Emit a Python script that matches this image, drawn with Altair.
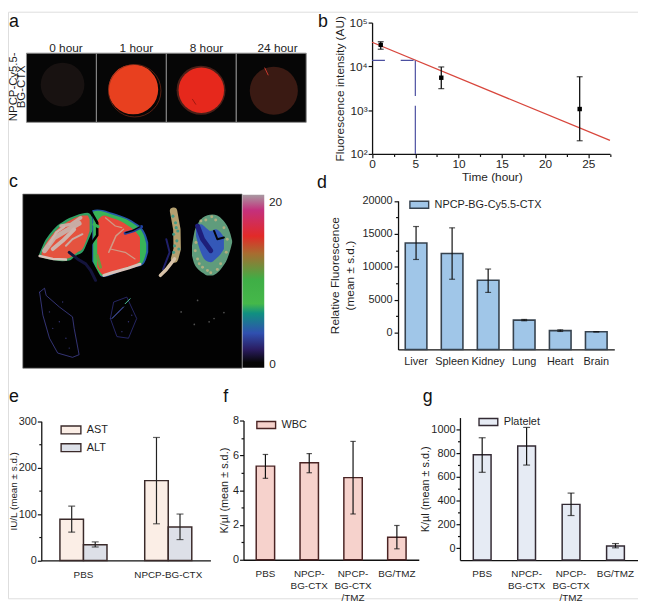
import altair as alt
import pandas as pd

W, H = 638, 594
FONT = "Liberation Sans"
INK = "#1f1f1f"

# ---------- panel a ----------
a_tiles = [0, 1, 2, 3]
a_circle_x = [0.516, 2.496, 2.5, 1.527, 3.537]
a_circle_y = [0.547, 0.464, 0.464, 0.476, 0.457]
a_circle_d = [50, 56, 52, 57, 55]
a_circle_c = ["#181211", "#4a1f18", "#e6281c", "#e8401f", "#3a1a13"]
a_ring = ([1.548], [0.457], [60])
a_streaks = [([3.408, 3.455], [0.786, 0.686], "#c8392e"), ([2.374, 2.42], [0.333, 0.261], "#a01810")]

# ---------- panel b ----------
b_time = [1, 8, 24]
b_mean = [31000, 5500, 1060]
b_lo = [24600, 3100, 200]
b_hi = [36700, 9700, 5800]
b_fit_t = [0, 27.5]
b_fit_v = [35500, 203]
b_half_t = [0, 5]
b_half_v = [13700, 13700]
b_drop_t = [5, 5]
b_drop_v = [13700, 100]

# ---------- panel c ----------
cbar_stops = [(0, "#a89aa2"), (0.09, "#c4307c"), (0.24, "#e22a28"), (0.34, "#a86c30"),
              (0.49, "#3fae46"), (0.63, "#45b84a"), (0.685, "#109080"), (0.80, "#3050b0"),
              (0.895, "#2a1c60"), (0.97, "#060606"), (1, "#050505")]
liver_left_x = [28, 45, 60, 80, 100, 120, 140, 160, 175, 188, 195]
liver_left_t = [178, 138, 115, 92, 78, 66, 58, 52, 50, 60, 85]
liver_left_b = [182, 188, 192, 195, 197, 195, 180, 170, 140, 110, 95]
liver_left_in_x = [36, 50, 65, 85, 105, 125, 145, 160, 175, 182]
liver_left_in_t = [172, 142, 120, 98, 84, 72, 63, 58, 58, 70]
liver_left_in_b = [178, 184, 188, 190, 190, 185, 170, 160, 125, 105]
liver_right_x = [190, 205, 225, 250, 275, 300, 320, 340, 352, 360]
liver_right_t = [42, 40, 42, 50, 58, 68, 80, 95, 115, 140]
liver_right_b = [200, 235, 245, 238, 228, 220, 215, 210, 195, 170]
liver_green_x = [193, 207, 225, 250, 275, 300, 320, 338, 348, 354]
liver_green_t = [46, 44, 47, 55, 63, 73, 86, 102, 122, 145]
liver_green_b = [198, 232, 243, 236, 226, 218, 213, 206, 190, 168]
liver_red_x = [205, 225, 250, 275, 300, 320, 335]
liver_red_t = [75, 58, 66, 75, 90, 105, 125]
liver_red_b = [215, 238, 232, 222, 214, 208, 198]

# ---------- panel d ----------
d_cat = ["Liver", "Spleen", "Kidney", "Lung", "Heart", "Brain"]
d_val = [13600, 12000, 7950, 1900, 300, 130]
d_lo = [11100, 8100, 6100, 1800, 180, 100]
d_hi = [16100, 15900, 9650, 2000, 420, 160]

# ---------- panel e ----------
e_cat = ["PBS", "PBS", "NPCP-BG-CTX", "NPCP-BG-CTX"]
e_ser = ["AST", "ALT", "AST", "ALT"]
e_val = [89, 34, 172, 72]
e_lo = [61, 29, 79, 45]
e_hi = [117, 40, 265, 100]

# ---------- panels f, g ----------
fg_cat = ["PBS", "NPCP-|BG-CTX", "NPCP-|BG-CTX|/TMZ", "BG/TMZ"]
f_val = [5.38, 5.57, 4.72, 1.29]
f_lo = [4.68, 5.0, 2.63, 0.63]
f_hi = [6.05, 6.1, 6.8, 1.97]
g_val = [786, 861, 369, 19]
g_lo = [639, 700, 275, 3]
g_hi = [930, 1017, 464, 39]

# ---------- text ----------
letters = [("a", 1, 15), ("b", 314, 15), ("c", 1, 177), ("d", 313, 179), ("e", 1, 395), ("f", 218, 395), ("g", 420, 395)]
notes = [("0 hour", 58.7, 36.5, 0, 12), ("1 hour", 130, 36.5, 0, 12), ("8 hour", 201, 36.5, 0, 12), ("24 hour", 273, 36.5, 0, 12),
         ("NPCP-Cy5.5-", 6, 76, 270, 11.5), ("BG-CTX", 14.5, 76, 270, 11.5), ("20", 271, 193, 0, 12), ("0", 268, 357, 0, 12)]


def page_x():
    return alt.Scale(domain=[0, W], range=[0, W])


def page_y():
    return alt.Scale(domain=[0, H], range=[0, H])


def common_axis(**kw):
    base = dict(grid=False, domainColor="#111", domainWidth=1.3, tickColor="#111", tickWidth=1.2, tickSize=4,
                labelColor=INK, titleColor=INK, labelFont=FONT, titleFont=FONT, titleFontWeight="normal",
                labelOverlap=False)
    base.update(kw)
    return alt.Axis(**base)


def minor_y(scale, values, offset):
    df = pd.DataFrame({"v": values})
    return alt.Chart(df).mark_point(opacity=0).encode(
        y=alt.Y("v:Q", scale=scale, axis=common_axis(values=values, labels=False, domain=False, tickSize=2.5,
                                                      title=None, offset=offset, orient="left")))


def minor_x(scale, values, offset):
    df = pd.DataFrame({"v": values})
    return alt.Chart(df).mark_point(opacity=0).encode(
        x=alt.X("v:Q", scale=scale, axis=common_axis(values=values, labels=False, domain=False, tickSize=2.5,
                                                      title=None, offset=offset, orient="bottom")))


def path(xs, ys, color, width, sx, sy, opacity=1.0, dash=None):
    df = pd.DataFrame({"x": xs, "y": ys, "i": range(len(xs))})
    kw = dict(color=color, strokeWidth=width, opacity=opacity, strokeCap="round", strokeJoin="round")
    if dash:
        kw["strokeDash"] = dash
    return alt.Chart(df).mark_line(**kw).encode(
        x=alt.X("x:Q", scale=sx, axis=None), y=alt.Y("y:Q", scale=sy, axis=None), order="i:Q")


def area(xs, ts, bs, color, sx, sy):
    df = pd.DataFrame({"x": xs, "t": ts, "b": bs})
    return alt.Chart(df).mark_area(color=color, interpolate="monotone").encode(
        x=alt.X("x:Q", scale=sx, axis=None), y=alt.Y("t:Q", scale=sy, axis=None), y2="b:Q")


def dots(xs, ys, color, size, sx, sy):
    df = pd.DataFrame({"x": xs, "y": ys})
    return alt.Chart(df).mark_circle(color=color, size=size, opacity=0.9).encode(
        x=alt.X("x:Q", scale=sx, axis=None), y=alt.Y("y:Q", scale=sy, axis=None))


layers = []

# ===== panel a =====
asx = alt.Scale(domain=[0, 4], range=[18.7, 302])
asy = alt.Scale(domain=[0, 1], range=[112, 42])
tiles = pd.DataFrame({"a": a_tiles, "b": [t + 1 for t in a_tiles], "lo": [0] * 4, "hi": [1] * 4})
a_parts = [alt.Chart(tiles).mark_rect(color="#060606", stroke="#8c8c8c", strokeWidth=1).encode(
    x=alt.X("a:Q", scale=asx, axis=None), x2="b:Q", y=alt.Y("lo:Q", scale=asy, axis=None), y2="hi:Q")]
for cx, cy, d, c in zip(a_circle_x, a_circle_y, a_circle_d, a_circle_c):
    a_parts.append(alt.Chart(pd.DataFrame({"x": [cx], "y": [cy]})).mark_circle(color=c, opacity=1, size=0.785 * d * d).encode(
        x=alt.X("x:Q", scale=asx, axis=None), y=alt.Y("y:Q", scale=asy, axis=None)))
a_parts.append(alt.Chart(pd.DataFrame({"x": a_ring[0], "y": a_ring[1]})).mark_point(
    color="#7a2a18", strokeWidth=0.7, opacity=1, size=0.785 * a_ring[2][0] ** 2, shape="circle").encode(
    x=alt.X("x:Q", scale=asx, axis=None), y=alt.Y("y:Q", scale=asy, axis=None)))
for xs, ys, c in a_streaks:
    a_parts.append(path(xs, ys, c, 1, asx, asy))
layers.append(alt.layer(*a_parts))

# ===== panel b =====
bsx = alt.Scale(domain=[0, 27.5], range=[368.7, 609.6])
bsy = alt.Scale(type="log", domain=[100, 100000], range=[144, 11])
b_df = pd.DataFrame({"t": b_time, "m": b_mean, "lo": b_lo, "hi": b_hi})
xaxis_b = common_axis(values=[0, 5, 10, 15, 20, 25], title="Time (hour)", titleFontSize=12, labelFontSize=12,
                      labelFlush=False, titlePadding=2, labelPadding=1, offset=144 - H, orient="bottom", titleX=490)
yaxis_b = common_axis(values=[100, 1000, 10000, 100000], title="Fluorescence intensity (AU)", titleFontSize=12,
                      labelFontSize=12, labelPadding=1, titlePadding=2, offset=-368.7, orient="left",
                      labelExpr="'10' + ['²','³','⁴','⁵'][round(log(datum.value)/LN10)-2]")
fit = pd.DataFrame({"t": b_fit_t, "v": b_fit_v})
half = pd.DataFrame({"t": b_half_t, "v": b_half_v})
drop = pd.DataFrame({"t": b_drop_t, "v": b_drop_v, "i": [0, 1]})
layers.append(alt.layer(
    alt.Chart(fit).mark_line(color="#d8463c", strokeWidth=1.3).encode(
        x=alt.X("t:Q", scale=bsx, axis=xaxis_b), y=alt.Y("v:Q", scale=bsy, axis=yaxis_b)),
    alt.Chart(half).mark_line(color="#4b4fa0", strokeWidth=1.2, strokeDash=[13, 16]).encode(
        x=alt.X("t:Q", scale=bsx), y=alt.Y("v:Q", scale=bsy)),
    alt.Chart(drop).mark_line(color="#4b4fa0", strokeWidth=1.2, strokeDash=[36, 10, 60, 0]).encode(
        x=alt.X("t:Q", scale=bsx), y=alt.Y("v:Q", scale=bsy), order="i:Q"),
    alt.Chart(b_df).mark_rule(color="#111", strokeWidth=1.3).encode(
        x=alt.X("t:Q", scale=bsx), y=alt.Y("lo:Q", scale=bsy), y2="hi:Q"),
    alt.Chart(b_df).mark_tick(color="#111", thickness=1.3, size=6, orient="horizontal").encode(
        x=alt.X("t:Q", scale=bsx), y=alt.Y("lo:Q", scale=bsy)),
    alt.Chart(b_df).mark_tick(color="#111", thickness=1.3, size=6, orient="horizontal").encode(
        x=alt.X("t:Q", scale=bsx), y=alt.Y("hi:Q", scale=bsy)),
    alt.Chart(b_df).mark_square(color="#000", size=20, opacity=1).encode(
        x=alt.X("t:Q", scale=bsx), y=alt.Y("m:Q", scale=bsy)),
))
layers.append(minor_x(bsx, [2.5, 7.5, 12.5, 17.5, 22.5, 27.5], 144 - H))

# ===== panel c =====
cx_s = alt.Scale(domain=[0, 1], range=[15, 237])
cy_s = alt.Scale(domain=[0, 1], range=[184.7, 361])
bg = pd.DataFrame({"a": [0], "b": [1], "c": [0], "d": [1]})
layers.append(alt.Chart(bg).mark_rect(color="#020202", stroke="#777", strokeWidth=0.7).encode(
    x=alt.X("a:Q", scale=cx_s, axis=None), x2="b:Q", y=alt.Y("c:Q", scale=cy_s, axis=None), y2="d:Q"))
bar_sx = alt.Scale(domain=[0, 1], range=[237.5, 259.5])
bar_sy = alt.Scale(domain=[0, 1], range=[185.3, 360.5])
layers.append(alt.Chart(bg).mark_rect(color=alt.Gradient(
    gradient="linear", x1=0, x2=0, y1=0, y2=1,
    stops=[alt.GradientStop(offset=o, color=c) for o, c in cbar_stops])).encode(
    x=alt.X("a:Q", scale=bar_sx, axis=None), x2="b:Q", y=alt.Y("c:Q", scale=bar_sy, axis=None), y2="d:Q"))

lx = alt.Scale(domain=[0, 375], range=[22, 147])
ly = alt.Scale(domain=[0, 270], range=[187, 277])
liver = [
    area(liver_left_x, liver_left_t, liver_left_b, "#2f9f63", lx, ly),
    area(liver_left_in_x, liver_left_in_t, liver_left_in_b, "#e5533f", lx, ly),
    path([45, 75, 110, 150], [165, 125, 105, 82], "#c9aca4", 5, lx, ly),
    path([70, 100, 135], [160, 135, 100], "#cfb4ac", 4, lx, ly),
    path([95, 125, 155], [90, 85, 65], "#c9aca4", 3.5, lx, ly),
    path([60, 80, 105], [145, 110, 92], "#cfb4ac", 2.5, lx, ly),
    path([110, 130, 160], [150, 130, 115], "#c9aca4", 2, lx, ly),
    path([30, 70, 110], [181, 190, 192], "#d8c2ba", 2.5, lx, ly),
    area(liver_right_x, liver_right_t, liver_right_b, "#2458a8", lx, ly),
    area(liver_green_x, liver_green_t, liver_green_b, "#38b458", lx, ly),
    area(liver_red_x, liver_red_t, liver_red_b, "#e8483a", lx, ly),
    path([225, 250, 300, 335], [240, 232, 218, 206], "#d8c2ba", 3, lx, ly),
    path([240, 262, 285], [170, 120, 100], "#d09a86", 1.5, lx, ly),
    path([245, 290, 320], [160, 170, 190], "#d09a86", 1.2, lx, ly),
    path([230, 260, 280], [65, 90, 95], "#d09a86", 1.2, lx, ly),
    path([185, 205, 205, 188, 168, 190, 212], [45, 80, 118, 142, 172, 205, 245], "#020202", 2.6, lx, ly),
    path([340, 315, 290], [92, 105, 112], "#2040a0", 3, lx, ly),
    path([335, 312, 292], [92, 104, 110], "#050505", 1.2, lx, ly),
    path([195, 208], [85, 92], "#38b458", 3, lx, ly),
    path([120, 145, 170, 185, 200], [170, 190, 205, 225, 255], "#14143c", 3, lx, ly),
    path([205, 215], [180, 215], "#6a9a40", 3, lx, ly),
]
layers.append(alt.layer(*liver))

kx = alt.Scale(domain=[0, 255], range=[147, 232])
ky = alt.Scale(domain=[0, 270], range=[187, 277])
kid = [
    path([40, 50, 30], [130, 170, 222], "#20206a", 2, kx, ky),
    path([62, 72, 73, 65], [45, 100, 160, 190], "#b4a070", 7.5, kx, ky),
    path([65, 40, 22], [190, 222, 240], "#d8c2a8", 3.5, kx, ky),
    dots([60, 68, 75, 62, 72, 65, 78, 62, 70], [60, 80, 105, 115, 135, 150, 160, 170, 95], "#3a9a88", 10, kx, ky),
    area([118, 125, 135, 150, 165, 180, 195, 210, 225, 235, 240],
         [150, 110, 85, 65, 57, 55, 58, 70, 90, 115, 135],
         [180, 205, 220, 232, 240, 240, 232, 215, 190, 160, 140], "#5f9c7c", kx, ky),
    area([130, 145, 160, 175, 190, 205, 215], [90, 85, 95, 105, 100, 110, 125],
         [120, 170, 195, 200, 190, 175, 160], "#3458b8", kx, ky),
    path([135, 150, 175], [90, 130, 165], "#1e1e7a", 5, kx, ky),
    path([185, 195, 215], [105, 130, 125], "#040408", 2, kx, ky),
    dots([135, 150, 175, 205, 225, 215, 160, 190, 130, 145, 128, 140, 195, 222, 178, 165],
         [190, 215, 232, 205, 130, 95, 72, 72, 140, 75, 165, 205, 222, 170, 62, 225], "#b8b080", 9, kx, ky),
]
layers.append(alt.layer(*kid))

bx = alt.Scale(domain=[0, 630], range=[22, 232])
by = alt.Scale(domain=[0, 255], range=[274, 359])
low = [
    path([30, 45, 50, 90, 130, 135, 150, 130, 85, 60, 40, 30], [30, 18, 40, 75, 105, 140, 220, 228, 215, 170, 100, 30],
         "#4a4aa8", 0.7, bx, by),
    path([245, 255, 295, 325, 300, 265, 245], [110, 60, 45, 110, 170, 165, 110], "#34348c", 0.7, bx, by),
    path([250, 285], [110, 75], "#5a70e0", 1, bx, by),
    path([290, 305], [65, 50], "#50d0a0", 1, bx, by),
    dots([60, 90, 110, 70, 100, 120, 270, 300, 280, 310], [90, 120, 170, 140, 60, 200, 90, 120, 150, 100], "#3a3a80", 2, bx, by),
    dots([510, 590, 545, 500, 460, 560], [55, 92, 120, 128, 90, 110], "#5a5a5a", 3, bx, by),
]
layers.append(alt.layer(*low))


def legend(xpos, ypos, size, path_str="M-1,-0.37H1V0.37H-1Z", stroke="#333", rowpad=8, offset=5):
    return alt.Legend(orient="none", legendX=xpos, legendY=ypos, title=None, symbolType=path_str, symbolSize=size,
                      symbolStrokeColor=stroke, symbolStrokeWidth=1.4, labelFont=FONT, labelFontSize=11,
                      labelColor=INK, rowPadding=rowpad, labelOffset=offset)


def bars(cats, vals, los, his, xr, yr, ydom, ymajor, yminor, ytitle, series_name, fill, stroke, legend_obj,
         pad_in, pad_out, cap, ytitlepad, xfont, yfont, tfont, base, bar_w=1.5, y_label_pad=2, x_label_pad=9):
    df = pd.DataFrame({"c": cats, "v": vals, "lo": los, "hi": his, "s": [series_name] * len(cats)})
    sx = alt.Scale(domain=cats, range=xr, paddingInner=pad_in, paddingOuter=pad_out)
    sy = alt.Scale(domain=ydom, range=yr, nice=False, zero=False)
    xax = common_axis(title=None, labelAngle=0, ticks=False, labelFontSize=xfont, labelPadding=x_label_pad, labelLimit=200,
                      labelExpr="split(datum.label,'|')", offset=yr[0] - H, labelBound=False, labelLineHeight=12,
                      orient="bottom")
    yax = common_axis(values=ymajor, title=ytitle, titleFontSize=tfont, labelFontSize=yfont, labelPadding=y_label_pad,
                      titlePadding=ytitlepad, offset=-xr[0], orient="left", format="d", titleLineHeight=15)
    X = alt.X("c:N", scale=sx, axis=xax, sort=None)
    X2 = alt.X("c:N", scale=sx, sort=None)
    main = alt.layer(
        alt.Chart(df).mark_bar(strokeWidth=bar_w, stroke=stroke, opacity=1).encode(
            x=X, y=alt.Y("v:Q", scale=sy, axis=yax), y2=alt.datum(base),
            color=alt.Color("s:N", scale=alt.Scale(domain=[series_name], range=[fill]), legend=legend_obj)),
        alt.Chart(df).mark_rule(color="#111", strokeWidth=1.2).encode(x=X2, y=alt.Y("lo:Q", scale=sy), y2="hi:Q"),
        alt.Chart(df).mark_tick(color="#111", thickness=1.2, size=cap, orient="horizontal").encode(x=X2, y=alt.Y("lo:Q", scale=sy)),
        alt.Chart(df).mark_tick(color="#111", thickness=1.2, size=cap, orient="horizontal").encode(x=X2, y=alt.Y("hi:Q", scale=sy)),
    )
    return [main, minor_y(sy, yminor, -xr[0])]


# ===== panel d =====
layers += bars(d_cat, d_val, d_lo, d_hi, [395, 614], [342, 191.5], [-2550, 20000], [0, 5000, 10000, 15000, 20000],
               [2500, 7500, 12500, 17500], ["Relative Fluorescence", "(mean ± s.d.)"], "NPCP-BG-Cy5.5-CTX",
               "#a0c6e8", "#36424e", legend(406, 185, 361, "M-1,-0.37H1V0.37H-1Z", "#36424e"), 0.4, 0.2, 6, 6, 11, 11, 12, -2550, 1.6,
               x_label_pad=6)

# ===== panel e =====
e_df = pd.DataFrame({"c": e_cat, "s": e_ser, "v": e_val, "lo": e_lo, "hi": e_hi})
e_sx = alt.Scale(domain=["PBS", "NPCP-BG-CTX"], range=[33.7, 205], paddingInner=0.445, paddingOuter=0.22)
e_sy = alt.Scale(domain=[0, 300], range=[555.7, 414.7], nice=False)
e_off = alt.XOffset("s:N", scale=alt.Scale(domain=["AST", "ALT"], paddingInner=0, paddingOuter=0), sort=None)
e_xax = common_axis(title=None, labelAngle=0, ticks=False, labelFontSize=10, labelPadding=9, offset=555.7 - H, orient="bottom")
e_yax = common_axis(values=[0, 100, 200, 300], title="IU/L (mean ± s.d.)", titleFontSize=10, labelFontSize=11,
                    labelPadding=1, offset=-33.7, orient="left", titleX=-23, format="d")
e_X = alt.X("c:N", scale=e_sx, axis=e_xax, sort=None)
e_X2 = alt.X("c:N", scale=e_sx, sort=None)
layers.append(alt.layer(
    alt.Chart(e_df).mark_bar(strokeWidth=1.5, stroke="#3a2a2a", opacity=1).encode(
        x=e_X, xOffset=e_off, y=alt.Y("v:Q", scale=e_sy, axis=e_yax), y2=alt.datum(0),
        color=alt.Color("s:N", scale=alt.Scale(domain=["AST", "ALT"], range=["#fbeee6", "#dde0e8"]),
                        legend=legend(56.3, 416, 178, "M-1.5,-0.6H1.5V0.6H-1.5Z", "#3a2a2a", 3, 8.4))),
    alt.Chart(e_df).mark_rule(color="#222", strokeWidth=1.2).encode(
        x=e_X2, xOffset=e_off, y=alt.Y("lo:Q", scale=e_sy), y2="hi:Q"),
    alt.Chart(e_df).mark_tick(color="#222", thickness=1.2, size=7, orient="horizontal").encode(
        x=e_X2, xOffset=e_off, y=alt.Y("lo:Q", scale=e_sy)),
    alt.Chart(e_df).mark_tick(color="#222", thickness=1.2, size=7, orient="horizontal").encode(
        x=e_X2, xOffset=e_off, y=alt.Y("hi:Q", scale=e_sy)),
))
layers.append(minor_y(e_sy, [50, 150, 250], -33.7))

# ===== panel f =====
layers += bars(fg_cat, f_val, f_lo, f_hi, [238.5, 416], [555, 414], [0, 8], [0, 2, 4, 6, 8], [1, 3, 5, 7],
               "K/µl (mean ± s.d.)", "WBC", "#f6d2cc", "#4a2424", legend(251, 408, 361, "M-1,-0.37H1V0.37H-1Z", "#4a2424"),
               0.58, 0.29, 5.5, 3, 10, 11, 11, 0, y_label_pad=1)

# ===== panel g =====
layers += bars(fg_cat, g_val, g_lo, g_hi, [457.7, 637.7], [555.3, 411], [-100, 1100], [0, 200, 400, 600, 800, 1000],
               [100, 300, 500, 700, 900], "K/µl (mean ± s.d.)", "Platelet", "#e6ebf4", "#332a33",
               legend(476, 405, 361, "M-1,-0.37H1V0.37H-1Z", "#332a33"), 0.6, 0.3, 7, 0, 10, 11, 11, -100, y_label_pad=1)

# ===== text =====
let_df = pd.DataFrame(letters, columns=["t", "x", "y"])
note_df = pd.DataFrame(notes, columns=["t", "x", "y", "a", "s"])
layers.append(alt.Chart(let_df).mark_text(font=FONT, fontSize=18, align="left", baseline="alphabetic", color="#111").encode(
    x=alt.X("x:Q", scale=page_x(), axis=None), y=alt.Y("y:Q", scale=page_y(), axis=None), text="t:N"))
layers.append(alt.Chart(note_df).mark_text(font=FONT, align="center", baseline="middle", color=INK).encode(
    x=alt.X("x:Q", scale=page_x(), axis=None), y=alt.Y("y:Q", scale=page_y(), axis=None), text="t:N",
    angle=alt.Angle("a:Q", scale=None), size=alt.Size("s:Q", scale=None)))

chart = alt.layer(*layers).resolve_scale(
    x="independent", y="independent", color="independent", xOffset="independent"
).resolve_axis(x="independent", y="independent").resolve_legend(color="independent").properties(
    width=W, height=H, padding=0, autosize=alt.AutoSizeParams(type="none")
).configure_view(stroke=None).configure(font=FONT)

chart.save("out.html", embed_options={"renderer": "svg", "actions": False})
